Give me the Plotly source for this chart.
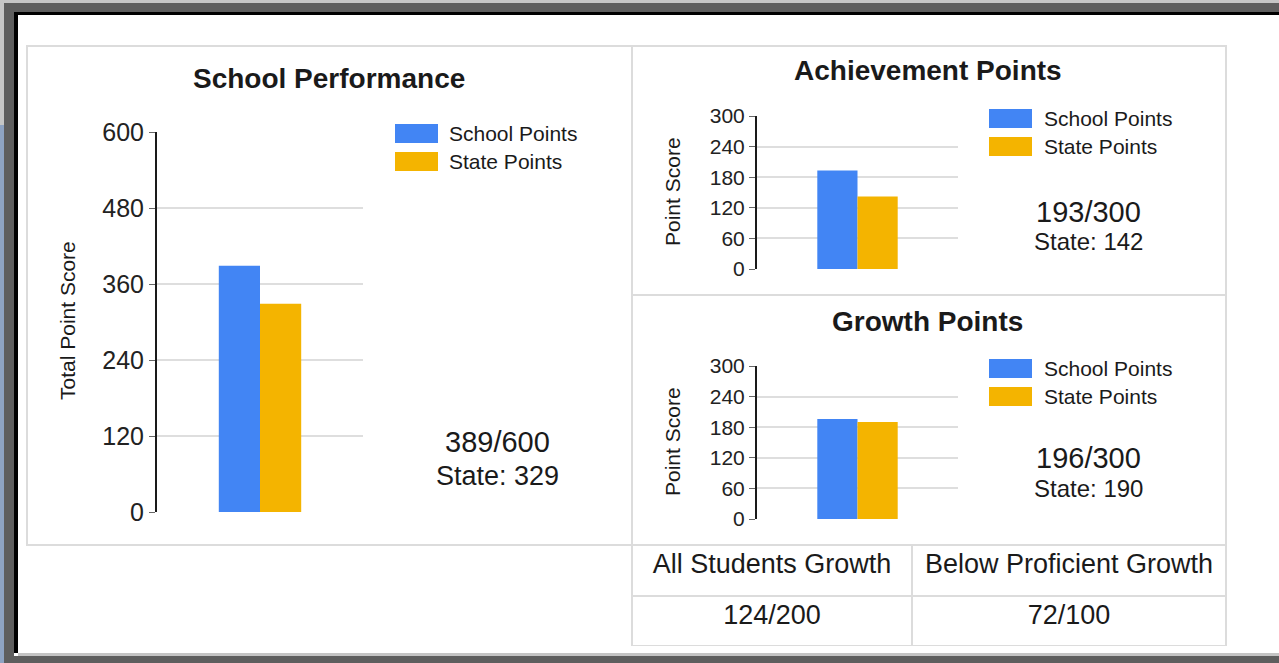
import plotly.graph_objects as go

# ---------------- data ----------------
chart_titles = ["School Performance", "Achievement Points", "Growth Points"]
axis_titles = ["Total Point Score", "Point Score", "Point Score"]
series_names = ["School Points", "State Points"]
school_points = [389, 193, 196]
state_points = [329, 142, 190]
max_points = [600, 300, 300]
total_ticks = [0, 120, 240, 360, 480, 600]
sub_ticks = [0, 60, 120, 180, 240, 300]
table_headers = ["All Students Growth", "Below Proficient Growth"]
table_values = ["124/200", "72/100"]

# ---------------- layout helpers ----------------
W, H = 1279, 663
def px(x):
    return x / W
def py(y):
    return 1 - y / H

BLUE = "#4285f4"
ORANGE = "#f4b400"
FONT = "Liberation Sans, Arial, sans-serif"
GRID = "#dedede"
BOX = "#dcdcdc"

fig = go.Figure()

# chart plot areas (pixels): x0, x1, ytop, ybottom
areas = [(157, 363, 132, 512), (757, 958, 116, 269), (757, 958, 366, 519)]
tickvals = [total_ticks, sub_ticks, sub_ticks]
tick_sizes = [25, 21, 21]

for i in range(3):
    xa = "x" if i == 0 else f"x{i+1}"
    ya = "y" if i == 0 else f"y{i+1}"
    cat = [chart_titles[i]]
    fig.add_trace(go.Bar(x=cat, y=[school_points[i]], name=series_names[0],
                         marker=dict(color=BLUE, line=dict(width=0)),
                         xaxis=xa, yaxis=ya, showlegend=False, hoverinfo="skip"))
    fig.add_trace(go.Bar(x=cat, y=[state_points[i]], name=series_names[1],
                         marker=dict(color=ORANGE, line=dict(width=0)),
                         xaxis=xa, yaxis=ya, showlegend=False, hoverinfo="skip"))
    x0, x1, yt, yb = areas[i]
    xkey = "xaxis" if i == 0 else f"xaxis{i+1}"
    ykey = "yaxis" if i == 0 else f"yaxis{i+1}"
    fig.update_layout(**{
        xkey: dict(domain=[px(x0), px(x1)], anchor=ya, showgrid=False,
                   showticklabels=False, ticks="", showline=False, zeroline=False,
                   automargin=False, fixedrange=True),
        ykey: dict(domain=[py(yb), py(yt)], anchor=xa, range=[0, max_points[i]],
                   tickvals=tickvals[i], showgrid=True, gridcolor=GRID, gridwidth=2,
                   zeroline=False, showline=True, linecolor="#1a1a1a", linewidth=2,
                   ticks="outside", ticklen=6, tickwidth=1, tickcolor="#666",
                   tickfont=dict(family=FONT, size=tick_sizes[i], color="#222"),
                   automargin=False, fixedrange=True),
    })

# table
fig.add_trace(go.Table(
    domain=dict(x=[px(632), px(1226)], y=[py(646), py(545)]),
    columnwidth=[280, 314],
    header=dict(values=table_headers, height=51, align="center",
                fill=dict(color="white"), line=dict(color=BOX, width=2),
                font=dict(family=FONT, size=27, color="#1a1a1a")),
    cells=dict(values=[[v] for v in table_values], height=50, align="center",
               fill=dict(color="white"), line=dict(color=BOX, width=2),
               font=dict(family=FONT, size=27, color="#1a1a1a")),
))

shapes = []
def rect(x0, y0, x1, y1, color, layer="above"):
    shapes.append(dict(type="rect", xref="paper", yref="paper",
                       x0=px(x0), x1=px(x1), y0=py(y1), y1=py(y0),
                       fillcolor=color, line=dict(width=0), layer=layer))
# outer frame
rect(0, 0, W, 3, "#c6c6c6")
rect(0, 3, 4, 125, "#c6c6c6")
rect(0, 125, 4, H, "#8ea3c2")
rect(4, 3, W, 12, "#5e5e5e")
rect(4, 3, 14, H, "#5e5e5e")
rect(14, 12, W, 15, "#000000")
rect(14, 12, 18, 653, "#000000")
rect(18, 653, W, 656, "#c4c4c4")
rect(4, 656, W, H, "#5e5e5e")

# panel boxes
def box(x0, y0, x1, y1):
    shapes.append(dict(type="rect", xref="paper", yref="paper",
                       x0=px(x0), x1=px(x1), y0=py(y1), y1=py(y0),
                       line=dict(color=BOX, width=2), fillcolor="rgba(0,0,0,0)",
                       layer="below"))
box(27, 46, 632, 545)
box(632, 46, 1226, 295)
box(632, 295, 1226, 545)

annotations = []
def text(x, y, s, size, bold=False, xanchor="center", angle=0):
    annotations.append(dict(xref="paper", yref="paper", x=px(x), y=py(y),
                            text=f"<b>{s}</b>" if bold else s, showarrow=False,
                            xanchor=xanchor, yanchor="middle", textangle=angle,
                            font=dict(family=FONT, size=size, color="#1a1a1a")))

# titles
text(329, 78, chart_titles[0], 28, bold=True)
text(928, 71, chart_titles[1], 28, bold=True)
text(928, 321, chart_titles[2], 28, bold=True)
# axis titles
text(67, 321, axis_titles[0], 21, angle=-90)
text(672, 192, axis_titles[1], 21, angle=-90)
text(672, 442, axis_titles[2], 21, angle=-90)

# legends
legend_specs = [(395, 447, 124, 21), (989, 1042, 109, 21), (989, 1042, 359, 21)]
for bx, tx, ty, fs in legend_specs:
    for k, color in enumerate([BLUE, ORANGE]):
        y0 = ty + k * 28
        rect(bx, y0, bx + 43, y0 + 19, color)
        text(tx, y0 + 9.5, series_names[k], fs, xanchor="left")

# score summaries
summary_pos = [(497, 442, 476, 29, 27), (1088, 212, 241, 29, 24), (1088, 458, 488, 29, 24)]
for i, (cx, y1, y2, f1, f2) in enumerate(summary_pos):
    text(cx, y1, f"{school_points[i]}/{max_points[i]}", f1)
    text(cx, y2, f"State: {state_points[i]}", f2)

fig.update_layout(
    width=W, height=H, margin=dict(l=0, r=0, t=0, b=0, autoexpand=False),
    paper_bgcolor="white", plot_bgcolor="white",
    barmode="group", bargap=0.6, bargroupgap=0,
    shapes=shapes, annotations=annotations, showlegend=False,
)

fig.write_html("out.html",
               config={"displayModeBar": False, "staticPlot": True},
               post_script="document.body.style.margin='0';document.body.style.overflow='hidden';")
